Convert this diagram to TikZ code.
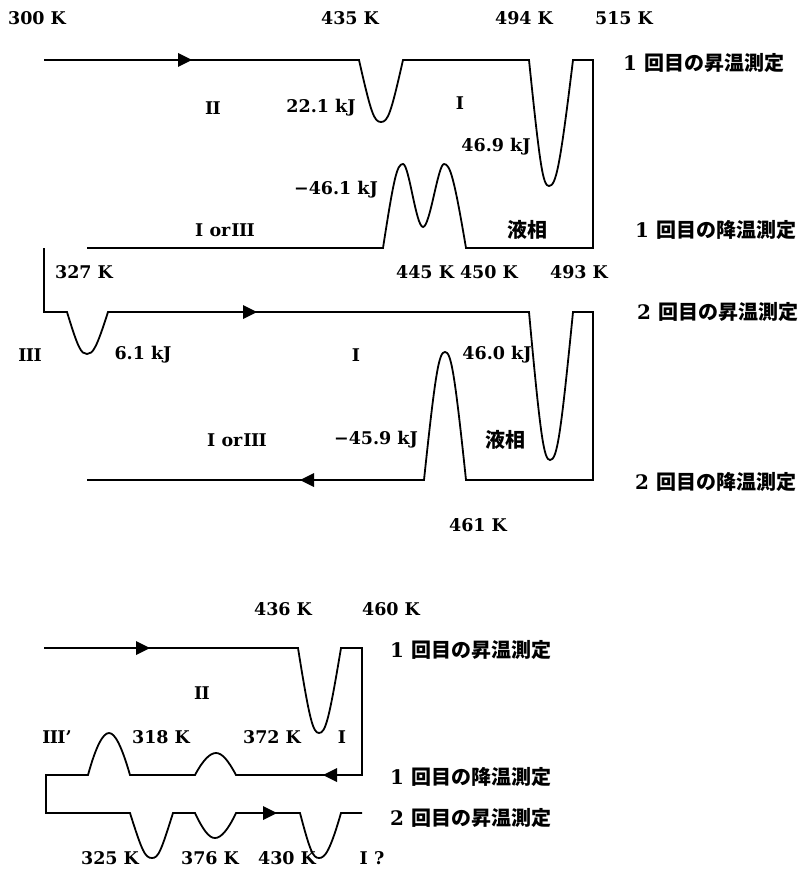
\documentclass[tikz,border=0pt]{standalone}
\usepackage{fontspec}
\setmainfont{DejaVu Serif}
\newfontfamily\jp{Noto Sans CJK JP}
\newcommand\rI{I}
\newcommand\rII{I\kern-0.6pt I}
\newcommand\rIII{I\kern-0.6pt I\kern-0.6pt I}
\newcommand\mn{−}
\newcommand\arrR[2]{\fill (#1,#2) -- ++(-14,-7) -- ++(0,14) -- cycle;}
\newcommand\arrL[2]{\fill (#1,#2) -- ++(14,-7) -- ++(0,14) -- cycle;}
\begin{document}
\begin{tikzpicture}[x=1pt,y=-1pt,
  curve/.style={line width=1.8pt},
  lbl/.style={font=\fontsize{17.5}{21}\selectfont\bfseries, inner sep=0pt},
  jlbl/.style={font=\fontsize{20}{22}\selectfont\bfseries, inner sep=0pt, anchor=west}]
\useasboundingbox (0,0) rectangle (802,869);
% ---------- upper diagram ----------
\draw[curve] (44,60) -- (359,60) .. controls (371,113) and (374,122) .. (381,122)
  .. controls (388,122) and (391,113) .. (403,60) -- (529,60)
  .. controls (540,167) and (543,186) .. (549,186)
  .. controls (556,186) and (560,167) .. (573,60) -- (593,60) -- (593,248) -- (466,248)
  .. controls (454,177) and (450,164) .. (444,164)
  .. controls (438,164) and (430,227) .. (423,227)
  .. controls (416,227) and (409,164) .. (403,164)
  .. controls (397,164) and (394,177) .. (383,248) -- (87,248);
\draw[curve] (44,248) -- (44,312) -- (67,312) .. controls (78,348) and (81,354) .. (87,354)
  .. controls (93,354) and (96.5,348) .. (108,312) -- (529,312)
  .. controls (540.5,438) and (544,460) .. (550,460)
  .. controls (557,460) and (560.5,438) .. (573,312) -- (593,312) -- (593,480) -- (466,480)
  .. controls (454.5,371) and (451,352) .. (445,352)
  .. controls (439,352) and (435.5,371) .. (424,480) -- (87,480);
\arrR{192}{60}
\arrR{257}{312}
\arrL{300}{480}
\node[lbl] (a1) at (37,18) {300 K};
\node[lbl] (a2) at (350,18) {435 K};
\node[lbl] (a3) at (524,18) {494 K};
\node[lbl] (a4) at (624,18) {515 K};
\node[jlbl] (a5) at (623,63) {1 {\jp 回目の昇温測定}};
\node[lbl] (a6) at (213,108) {\rII};
\node[lbl] (a7) at (321,108) {22.1 kJ};
\node[lbl] (a8) at (460,103) {\rI};
\node[lbl] (a9) at (496,147) {46.9 kJ};
\node[lbl] (a10) at (336,190) {\mn46.1 kJ};
\node[lbl] (a11) at (225,230) {\rI{} or\kern1pt\rIII};
\node[jlbl,anchor=center] (a12) at (527,230) {\jp 液相};
\node[jlbl] (a13) at (635,230) {1 {\jp 回目の降温測定}};
\node[lbl] (a14) at (84,272) {327 K};
\node[lbl] (a15) at (457,272) {445 K 450 K};
\node[lbl] (a17) at (579,272) {493 K};
\node[jlbl] (a18) at (637,312) {2 {\jp 回目の昇温測定}};
\node[lbl] (a19) at (30,355) {\rIII};
\node[lbl] (a20) at (143,355) {6.1 kJ};
\node[lbl] (a21) at (356,355) {\rI};
\node[lbl] (a22) at (497,355) {46.0 kJ};
\node[lbl] (a23) at (237,440) {\rI{} or\kern1pt\rIII};
\node[lbl] (a24) at (376,440) {\mn45.9 kJ};
\node[jlbl,anchor=center] (a25) at (505,440) {\jp 液相};
\node[jlbl] (a26) at (635,482) {2 {\jp 回目の降温測定}};
\node[lbl] (a27) at (478,525) {461 K};
% ---------- lower diagram ----------
\draw[curve] (44,648) -- (298,648) .. controls (309.5,720) and (313,733) .. (319,733)
  .. controls (325.5,733) and (329,720) .. (341,648) -- (362,648) -- (362,775) -- (236,775)
  .. controls (228,760) and (222,753) .. (216,753)
  .. controls (210,753) and (203,760) .. (195,775) -- (130,775)
  .. controls (121.6,746) and (115,733) .. (109,733)
  .. controls (103,733) and (96,746) .. (88,775) -- (46,775) -- (46,813) -- (130,813)
  .. controls (142,851) and (145,858) .. (152,858)
  .. controls (158.5,858) and (161,851) .. (173,813) -- (195,813)
  .. controls (203,830) and (209,838) .. (215,838)
  .. controls (221,838) and (228,830) .. (236,813) -- (300,813)
  .. controls (310,851) and (313,858) .. (319,858)
  .. controls (325,858) and (330,851) .. (341,813) -- (362,813);
\arrR{150}{648}
\arrL{323}{775}
\arrR{277}{813}
\node[lbl] (b1) at (283,609) {436 K};
\node[lbl] (b2) at (391,609) {460 K};
\node[jlbl] (b3) at (390,650) {1 {\jp 回目の昇温測定}};
\node[lbl] (b4) at (202,693) {\rII};
\node[lbl] (b5) at (57,737) {\rIII'};
\node[lbl] (b6) at (161,737) {318 K};
\node[lbl] (b7) at (272,737) {372 K};
\node[lbl] (b8) at (342,737) {\rI};
\node[jlbl] (b9) at (390,777) {1 {\jp 回目の降温測定}};
\node[jlbl] (b10) at (390,818) {2 {\jp 回目の昇温測定}};
\node[lbl] (b11) at (110,858) {325 K};
\node[lbl] (b12) at (210,858) {376 K};
\node[lbl] (b13) at (287,858) {430 K};
\node[lbl] (b14) at (372,858) {\rI{} ?};
\end{tikzpicture}
\end{document}
